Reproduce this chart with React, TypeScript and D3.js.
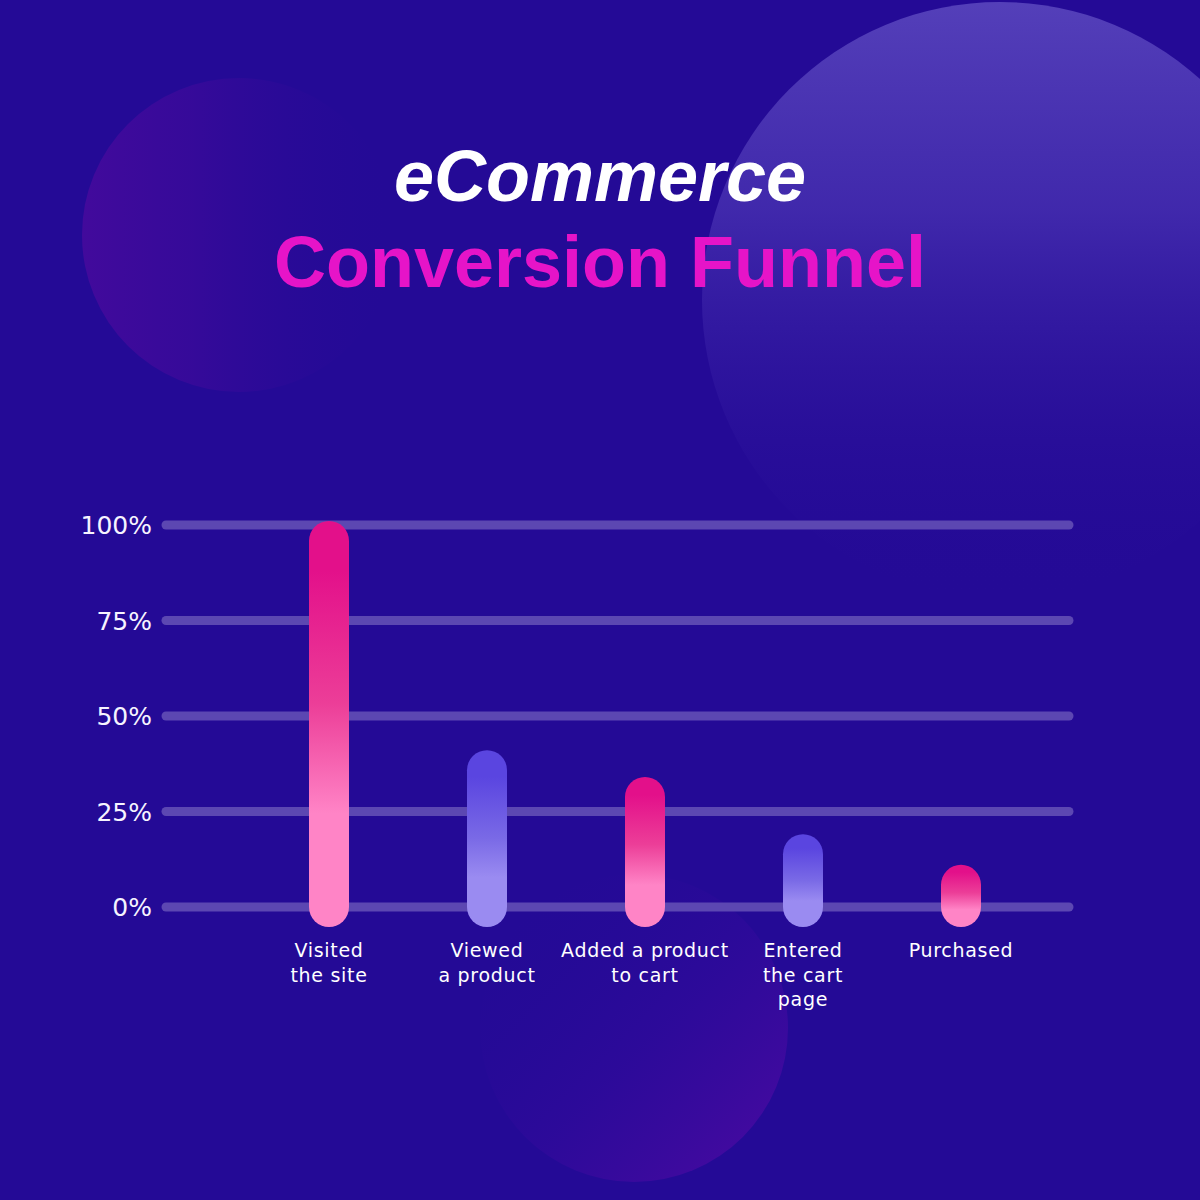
import React from "react";
import * as d3 from "d3";

const stages = ["Visited the site", "Viewed a product", "Added a product to cart", "Entered the cart page", "Purchased"];
const stageLines = [["Visited", "the site"], ["Viewed", "a product"], ["Added a product", "to cart"], ["Entered", "the cart", "page"], ["Purchased"]];
const values = [100, 40, 33, 18, 10];
const barStyles = ["pink", "purple", "pink", "purple", "pink"];
const yTicks = [0, 25, 50, 75, 100];
const titleLine1 = "eCommerce";
const titleLine2 = "Conversion Funnel";

const W = 1200;
const H = 1200;
const BG = "#240A96";

export default function App() {
  const x = d3.scaleBand<string>().domain(stages).range([250, 1040]).padding(0);
  const y = d3.scaleLinear().domain([0, 100]).range([907, 525]);
  const barW = 40;
  const capOver = 4;
  const bottomExt = 20;
  const labelFont = "'DejaVu Sans', sans-serif";

  return (
    <svg width={W} height={H} viewBox={`0 0 ${W} ${H}`} style={{ display: "block", position: "absolute", left: 0, top: 0 }}>
      <defs>
        <linearGradient id="bigCircle" x1="0" y1="0" x2="0" y2="1">
          <stop offset="0" stopColor="#7B6BD6" stopOpacity="0.55" />
          <stop offset="0.35" stopColor="#6A56CC" stopOpacity="0.4" />
          <stop offset="0.75" stopColor="#3B22A8" stopOpacity="0.15" />
          <stop offset="1" stopColor={BG} stopOpacity="0" />
        </linearGradient>
        <linearGradient id="leftCircle" x1="0" y1="0" x2="1" y2="0">
          <stop offset="0" stopColor="#420A9C" stopOpacity="1" />
          <stop offset="0.35" stopColor="#3A0A9A" stopOpacity="0.8" />
          <stop offset="1" stopColor={BG} stopOpacity="0" />
        </linearGradient>
        <linearGradient id="bottomCircle" x1="0.1" y1="0.1" x2="0.9" y2="0.9">
          <stop offset="0" stopColor={BG} stopOpacity="0" />
          <stop offset="0.55" stopColor="#300A9B" stopOpacity="0.7" />
          <stop offset="1" stopColor="#440AA0" stopOpacity="1" />
        </linearGradient>
        <linearGradient id="pinkBar" x1="0" y1="0" x2="0" y2="1">
          <stop offset="0" stopColor="#E3108A" />
          <stop offset="0.12" stopColor="#E3108A" />
          <stop offset="0.45" stopColor="#EC3E98" />
          <stop offset="0.72" stopColor="#FF84C6" />
          <stop offset="1" stopColor="#FF84C6" />
        </linearGradient>
        <linearGradient id="purpleBar" x1="0" y1="0" x2="0" y2="1">
          <stop offset="0" stopColor="#5A45E0" />
          <stop offset="0.15" stopColor="#5A45E0" />
          <stop offset="0.5" stopColor="#7A6AE6" />
          <stop offset="0.72" stopColor="#9A8BF1" />
          <stop offset="1" stopColor="#9A8BF1" />
        </linearGradient>
      </defs>

      <rect x={0} y={0} width={W} height={H} fill={BG} />

      {/* decorative circles */}
      <circle cx={1000} cy={300} r={298} fill="url(#bigCircle)" />
      <circle cx={239} cy={235} r={157} fill="url(#leftCircle)" />
      <circle cx={634} cy={1028} r={154} fill="url(#bottomCircle)" />

      {/* title */}
      <text x={600} y={201} textAnchor="middle" fill="#FFFFFF" fontFamily="'Liberation Sans', Arial, sans-serif" fontWeight="bold" fontStyle="italic" fontSize={72}>
        {titleLine1}
      </text>
      <text x={600} y={287} textAnchor="middle" fill="#E614C8" fontFamily="'Liberation Sans', Arial, sans-serif" fontWeight="bold" fontSize={72}>
        {titleLine2}
      </text>

      {/* gridlines */}
      {yTicks.map((t) => (
        <g key={t}>
          <line x1={166} x2={1069} y1={y(t)} y2={y(t)} stroke="#5C47B2" strokeWidth={9} strokeLinecap="round" />
          <text x={152} y={y(t)} dy="0.36em" textAnchor="end" fill="#F6F4FF" fontFamily={labelFont} fontSize={25}>
            {t}%
          </text>
        </g>
      ))}

      {/* bars */}
      {stages.map((s, i) => {
        const cx = (x(s) as number) + x.bandwidth() / 2;
        const top = y(values[i]) - capOver;
        const bottom = y(0) + bottomExt;
        return (
          <rect
            key={s}
            x={cx - barW / 2}
            y={top}
            width={barW}
            height={bottom - top}
            rx={barW / 2}
            ry={barW / 2}
            fill={barStyles[i] === "pink" ? "url(#pinkBar)" : "url(#purpleBar)"}
          />
        );
      })}

      {/* x labels */}
      {stages.map((s, i) => {
        const cx = (x(s) as number) + x.bandwidth() / 2;
        return (
          <text key={s} x={cx} y={957} textAnchor="middle" fill="#FFFFFF" fontFamily={labelFont} fontSize={19} letterSpacing={0.7}>
            {stageLines[i].map((ln, j) => (
              <tspan key={j} x={cx} dy={j === 0 ? 0 : 24.5}>
                {ln}
              </tspan>
            ))}
          </text>
        );
      })}
    </svg>
  );
}
